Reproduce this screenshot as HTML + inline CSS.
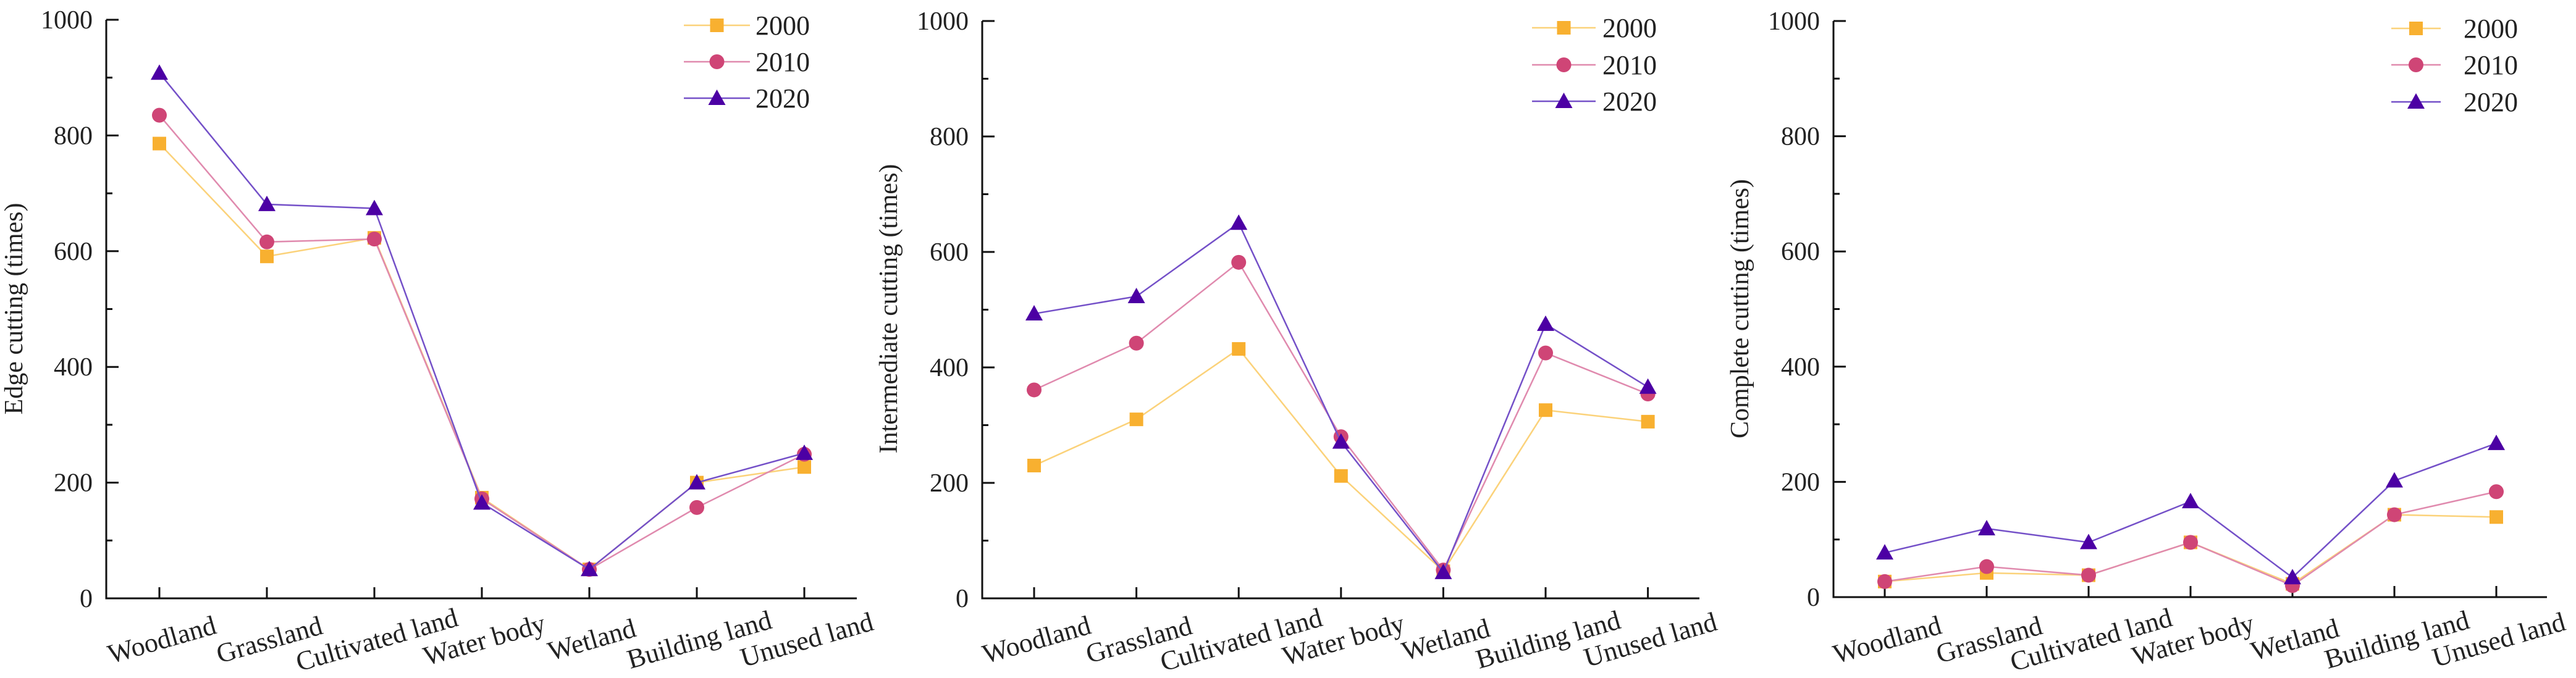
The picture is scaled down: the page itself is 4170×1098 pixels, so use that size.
<!DOCTYPE html>
<html><head><meta charset="utf-8">
<style>
html,body{margin:0;padding:0;background:#fff;}
svg{display:block;font-family:"Liberation Serif",serif;}
</style></head>
<body>
<svg id="chart" width="4170" height="1098" viewBox="0 0 4170 1098" xmlns="http://www.w3.org/2000/svg"></svg>
<script>
const categories = ["Woodland","Grassland","Cultivated land","Water body","Wetland","Building land","Unused land"];
const years = ["2000","2010","2020"];
const yTicks = [0,200,400,600,800,1000];
const edge2000 = [786,591,623,174,50,200,227];
const edge2010 = [835,616,621,172,50,157,249];
const edge2020 = [908,681,674,165,50,200,251];
const inter2000 = [230,310,432,212,47,326,306];
const inter2010 = [361,442,582,280,49,425,354];
const inter2020 = [493,523,650,271,45,475,366];
const comp2000 = [27,42,38,95,23,143,139];
const comp2010 = [27,53,38,95,20,143,183];
const comp2020 = [77,119,95,166,34,202,267];
const titles = ["Edge cutting (times)","Intermediate cutting (times)","Complete cutting (times)"];

const colors = {"2000":{line:"#FBD27A",mark:"#F8B030"},"2010":{line:"#E08AAE",mark:"#CF4576"},"2020":{line:"#7450C8",mark:"#4C00A4"}};
const NS="http://www.w3.org/2000/svg";
const svg=document.getElementById("chart");
function mk(tag,attrs,parent){const e=document.createElementNS(NS,tag);for(const k in attrs)e.setAttribute(k,attrs[k]);(parent||svg).appendChild(e);return e;}

const panels=[
 {axisX:172,first:258,step:174,end:1387,y0:969,y1000:32,titleX:36,legLine:[1107,1214],legText:1223,legY:[41,100,159],series:[edge2000,edge2010,edge2020],name:"edge"},
 {axisX:1590,first:1674,step:165.6,end:2751,y0:969,y1000:34,titleX:1452,legLine:[2480,2583],legText:2594,legY:[45,105,164],series:[inter2000,inter2010,inter2020],name:"intermediate"},
 {axisX:2968,first:3051,step:165,end:4123,y0:967,y1000:34,titleX:2830,legLine:[3871,3951],legText:3988,legY:[46,105,165],series:[comp2000,comp2010,comp2020],name:"complete"}
];

panels.forEach((p,pi)=>{
  const g=mk("g",{});
  
  
  const yS=v=>p.y0-(v/1000)*(p.y0-p.y1000);
  const xS=i=>p.first+i*p.step;
  // axes
  const ya=mk("line",{x1:p.axisX,y1:p.y1000,x2:p.axisX,y2:p.y0+1.5,stroke:"#111","stroke-width":3},g);
  
  
  const xa=mk("line",{x1:p.axisX-1.5,y1:p.y0,x2:p.end,y2:p.y0,stroke:"#111","stroke-width":3},g);
  
  
  for(let v=0;v<=1000;v+=100){
    const major=v%200===0;
    if(v>0) mk("line",{x1:p.axisX,y1:yS(v),x2:p.axisX+(major?20:10),y2:yS(v),stroke:"#111","stroke-width":3},g);
  }
  yTicks.forEach(v=>{
    const t=mk("text",{x:p.axisX-22,y:yS(v)+14,"text-anchor":"end","font-size":42,fill:"#222"},g);
    t.textContent=String(v);
    
    
  });
  categories.forEach((c,i)=>{
    mk("line",{x1:xS(i),y1:p.y0,x2:xS(i),y2:p.y0-18,stroke:"#111","stroke-width":3},g);
    const cx=xS(i)+8, cy=1050;
    const t=mk("text",{x:cx,y:cy,"text-anchor":"middle","font-size":44,fill:"#222",transform:`rotate(-16 ${cx} ${cy})`},g);
    t.textContent=c;
    
    
  });
  const tt=mk("text",{x:p.titleX,y:500,"text-anchor":"middle","font-size":42,fill:"#222",transform:`rotate(-90 ${p.titleX} 500)`},g);
  tt.textContent=titles[pi];
  
  

  function marker(type,x,y,col,parent){
    let m;
    if(type===0) m=mk("rect",{x:x-11,y:y-11,width:22,height:22,fill:col},parent);
    else if(type===1) m=mk("circle",{cx:x,cy:y,r:12,fill:col},parent);
    else m=mk("polygon",{points:`${x},${y-14} ${x-14},${y+11} ${x+14},${y+11}`,fill:col},parent);
    return m;
  }
  p.series.forEach((arr,si)=>{
    const yr=years[si];
    const sg=mk("g",{},g);
    
    
    const pts=arr.map((v,i)=>xS(i)+","+yS(v)).join(" ");
    mk("polyline",{points:pts,fill:"none",stroke:colors[yr].line,"stroke-width":2.5},sg);
    arr.forEach((v,i)=>{
      const m=marker(si,xS(i),yS(v),colors[yr].mark,sg);
      
      
    });
  });
  // legend
  years.forEach((yr,si)=>{
    const lg=mk("g",{},g);
    
    
    const ly=p.legY[si];
    mk("line",{x1:p.legLine[0],y1:ly,x2:p.legLine[1],y2:ly,stroke:colors[yr].line,"stroke-width":2.5},lg);
    marker(si,(p.legLine[0]+p.legLine[1])/2,ly,colors[yr].mark,lg);
    const t=mk("text",{x:p.legText,y:ly+15,"font-size":44,fill:"#222"},lg);
    t.textContent=yr;
  });
});
</script>
</body></html>
